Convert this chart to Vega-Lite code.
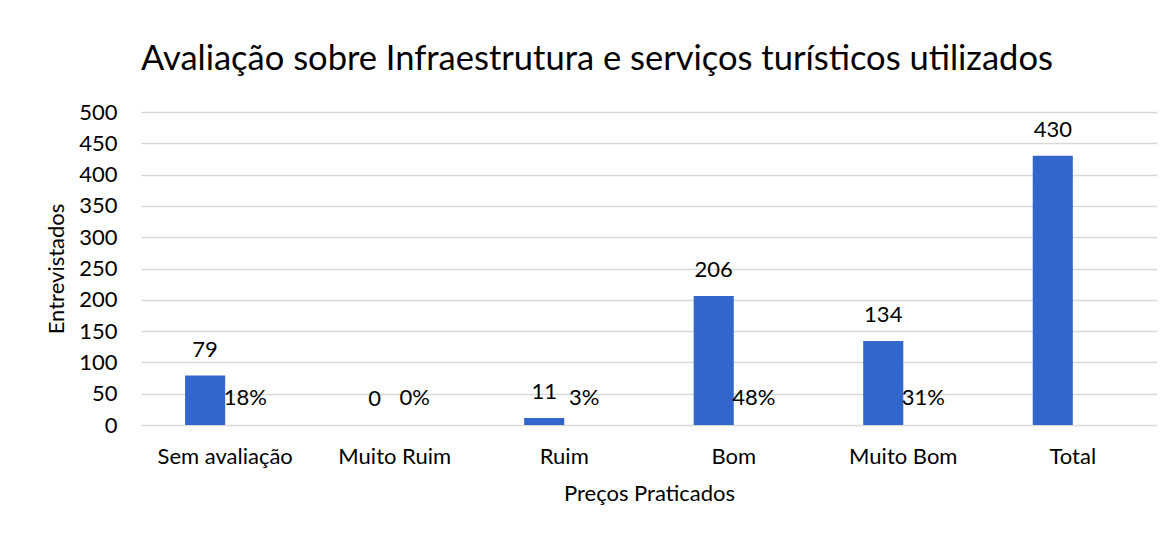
{
  "$schema": "https://vega.github.io/schema/vega-lite/v6.json",
  "width": 1016,
  "height": 313,
  "autosize": {"type": "none"},
  "padding": {"left": 141, "top": 112, "right": 17, "bottom": 109},
  "background": "white",
  "title": {
    "text": "Avaliação sobre Infraestrutura e serviços turísticos utilizados",
    "anchor": "start",
    "frame": "group",
    "font": "Lato",
    "fontSize": 34.5,
    "fontWeight": "normal",
    "color": "#000000",
    "offset": 24
  },
  "data": {
    "values": [
      {"avaliacao": "Sem avaliação", "entrevistados": 79, "percentual": 0.18},
      {"avaliacao": "Muito Ruim", "entrevistados": 0, "percentual": 0.0},
      {"avaliacao": "Ruim", "entrevistados": 11, "percentual": 0.03},
      {"avaliacao": "Bom", "entrevistados": 206, "percentual": 0.48},
      {"avaliacao": "Muito Bom", "entrevistados": 134, "percentual": 0.31},
      {"avaliacao": "Total", "entrevistados": 430, "percentual": null}
    ]
  },
  "encoding": {
    "x": {
      "field": "avaliacao",
      "type": "nominal",
      "sort": null,
      "title": "Preços Praticados",
      "scale": {"paddingInner": 0.527, "paddingOuter": 0.26},
      "axis": {
        "labelAngle": 0,
        "domain": false,
        "ticks": false,
        "labelPadding": 21,
        "titlePadding": 16
      }
    }
  },
  "layer": [
    {
      "mark": {"type": "bar", "color": "#3366CC"},
      "encoding": {
        "xOffset": {"datum": "Entrevistados", "scale": {"domain": ["Entrevistados", "Percentual"], "paddingInner": 0, "paddingOuter": 0}},
        "y": {
          "field": "entrevistados",
          "type": "quantitative",
          "title": "Entrevistados",
          "scale": {"domain": [0, 500]}
        }
      }
    },
    {
      "mark": {"type": "text", "baseline": "alphabetic", "dy": -19, "font": "Lato", "fontSize": 22, "color": "#000000"},
      "encoding": {
        "xOffset": {"datum": "Entrevistados"},
        "y": {"field": "entrevistados", "type": "quantitative", "title": "Entrevistados"},
        "text": {"field": "entrevistados", "type": "quantitative"}
      }
    },
    {
      "transform": [{"filter": "datum.percentual != null"}],
      "mark": {"type": "text", "baseline": "alphabetic", "dy": -20, "font": "Lato", "fontSize": 22, "color": "#000000"},
      "encoding": {
        "xOffset": {"datum": "Percentual"},
        "y": {"field": "percentual", "type": "quantitative", "title": "Entrevistados"},
        "text": {"field": "percentual", "type": "quantitative", "format": ".0%"}
      }
    }
  ],
  "config": {
    "font": "Lato",
    "view": {"stroke": null},
    "axis": {
      "labelFont": "Lato",
      "labelFontSize": 22,
      "labelColor": "#000000",
      "titleFont": "Lato",
      "titleFontSize": 22,
      "titleFontWeight": "normal",
      "titleColor": "#000000"
    },
    "axisX": {"grid": false},
    "axisY": {
      "tickCount": 10,
      "labelOverlap": false,
      "labelFlush": false,
      "domain": false,
      "ticks": false,
      "labelPadding": 24,
      "titlePadding": 10,
      "gridColor": "#d9d9d9",
      "gridWidth": 1.5
    }
  }
}
